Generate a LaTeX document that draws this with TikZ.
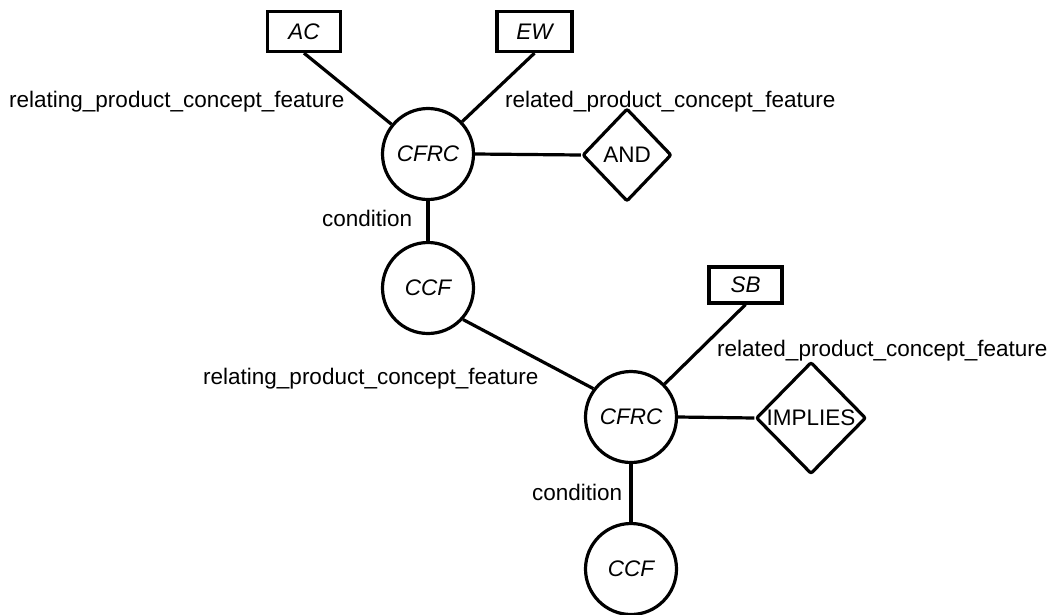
\documentclass[tikz,border=0pt]{standalone}
\usepackage{fontspec}
\setmainfont{Liberation Sans}
\usetikzlibrary{shapes.geometric}
\begin{document}
\begin{tikzpicture}[x=1pt,y=-1pt,
  every node/.style={font=\fontsize{22.5}{27}\selectfont, inner sep=0pt},
  line/.style={line width=3.2pt},
  entbox/.style={draw, line width=3.2pt, minimum width=73pt, minimum height=40pt},
  relcircle/.style={draw, circle, line width=3.2pt, minimum size=91pt},
  opdiamond/.style={draw, diamond, line width=3.2pt, rounded corners=2pt},
  lbl/.style={anchor=base west}]
\useasboundingbox (0,0) rectangle (1051,614);

% entity boxes
\node[entbox] (AC) at (304,31.5) {\itshape AC};
\node[entbox, minimum width=75pt] (EW) at (534.5,31.5) {\itshape EW};
\node[entbox, minimum width=73pt, minimum height=36pt] (SB) at (745.5,285) {\itshape SB};

% relationship circles
\node[relcircle] (CFRCa) at (428,154) {\itshape CFRC};
\node[relcircle] (CCFa) at (428,288) {\itshape CCF};
\node[relcircle] (CFRCb) at (631,417) {\itshape CFRC};
\node[relcircle] (CCFb) at (631,569) {\itshape CCF};

% logical operators
\node[opdiamond, minimum width=89pt, minimum height=93pt] (AND) at (627,155) {AND};
\node[opdiamond, minimum width=110pt, minimum height=112pt] (IMP) at (811,418) {IMPLIES};

% connectors
\draw[line] (AC.south) -- (CFRCa);
\draw[line] (EW.south) -- (CFRCa);
\draw[line] (CFRCa.east) -- (AND.west);
\draw[line] (CFRCa.south) -- (CCFa.north);
\draw[line] (CCFa.-42) -- (CFRCb.143);
\draw[line] (SB.south) -- (CFRCb);
\draw[line] (CFRCb.east) -- (IMP.west);
\draw[line] (CFRCb.south) -- (CCFb.north);

% role labels
\node[lbl] (l1) at (9,107) {relating\_product\_concept\_feature};
\node[lbl] (l2) at (505,107) {related\_product\_concept\_feature};
\node[lbl] (l3) at (322,226) {condition};
\node[lbl] (l4) at (203,384) {relating\_product\_concept\_feature};
\node[lbl] (l5) at (717,356) {related\_product\_concept\_feature};
\node[lbl] (l6) at (532,500) {condition};
\end{tikzpicture}
\end{document}
